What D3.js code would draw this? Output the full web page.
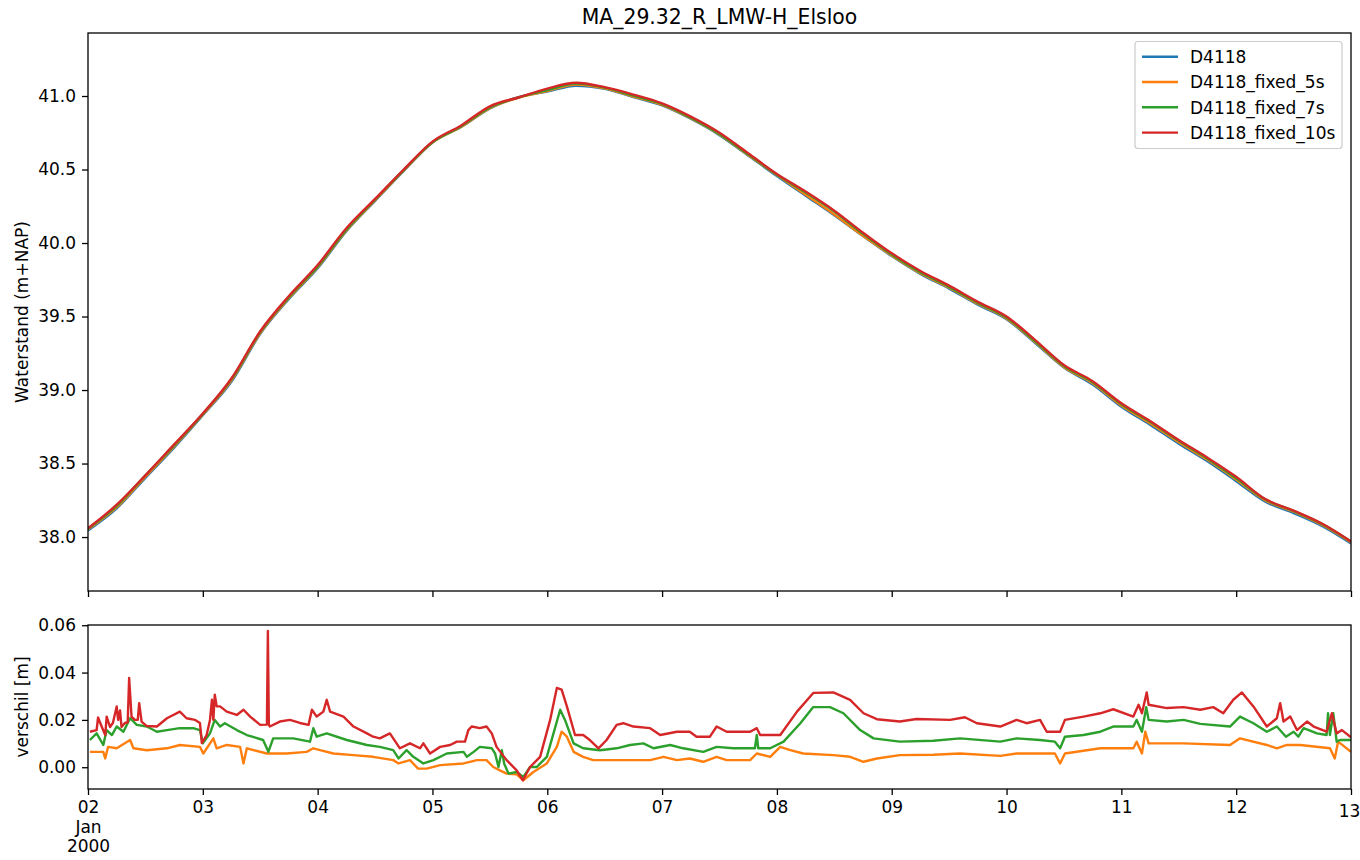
<!DOCTYPE html>
<html>
<head>
<meta charset="utf-8">
<script src="https://cdn.jsdelivr.net/npm/d3@7"></script>
<style>
    body { margin: 0; background: #fff; }
    svg text { font-family: "DejaVu Sans", sans-serif; fill: #000; }
</style>
</head>
<body>
<div id="chart"></div>
<script>
// series + tick labels
var seriesNames = ["D4118", "D4118_fixed_5s", "D4118_fixed_7s", "D4118_fixed_10s"];
var seriesColors = ["#1f77b4", "#ff7f0e", "#2ca02c", "#d62728"];
var dayLabels = ["02", "03", "04", "05", "06", "07", "08", "09", "10", "11", "12", "13"];
var dayHours = [0, 24, 48, 72, 96, 120, 144, 168, 192, 216, 240, 264];
var topTicks = [38.0, 38.5, 39.0, 39.5, 40.0, 40.5, 41.0];
var bottomTicks = [0.00, 0.02, 0.04, 0.06];

// hours since 2000-01-02 00:00, every 6 hours
var hours = [0, 6, 12, 18, 24, 30, 36, 42, 48, 54, 60, 66, 72, 78, 84, 90, 96, 102, 108, 114, 120, 126, 132, 138, 144,
    150, 156, 162, 168, 174, 180, 186, 192, 198, 204, 210, 216, 222, 228, 234, 240, 246, 252, 258, 264];

var waterstand = [38.045, 38.195, 38.403, 38.608, 38.828, 39.057, 39.382, 39.620, 39.828, 40.080, 40.287, 40.491, 40.684,
    40.789, 40.915, 40.993, 41.030, 41.070, 41.049, 40.993, 40.936, 40.845, 40.734, 40.595, 40.456, 40.322, 40.189, 40.047,
    39.911, 39.790, 39.690, 39.581, 39.482, 39.320, 39.153, 39.038, 38.887, 38.764, 38.635, 38.515, 38.380, 38.242, 38.163,
    38.074, 37.957];
var fixed5s = [38.052, 38.203, 38.410, 38.617, 38.834, 39.066, 39.388, 39.626, 39.835, 40.085, 40.291, 40.494, 40.684,
    40.791, 40.918, 40.989, 41.034, 41.078, 41.052, 40.996, 40.940, 40.849, 40.738, 40.598, 40.463, 40.328, 40.194, 40.049,
    39.916, 39.795, 39.696, 39.587, 39.487, 39.326, 39.157, 39.046, 38.895, 38.774, 38.645, 38.525, 38.391, 38.251, 38.172,
    38.082, 37.964];
var fixed7s = [38.057, 38.212, 38.420, 38.624, 38.838, 39.074, 39.394, 39.632, 39.841, 40.091, 40.296, 40.497, 40.686,
    40.794, 40.923, 40.990, 41.040, 41.084, 41.057, 41.002, 40.945, 40.853, 40.742, 40.603, 40.466, 40.344, 40.214, 40.062,
    39.922, 39.801, 39.702, 39.593, 39.493, 39.332, 39.164, 39.053, 38.904, 38.784, 38.655, 38.533, 38.400, 38.257, 38.177,
    38.088, 37.969];
var fixed10s = [38.060, 38.220, 38.420, 38.630, 38.840, 39.080, 39.400, 39.640, 39.850, 40.100, 40.300, 40.500, 40.690,
    40.800, 40.930, 40.990, 41.050, 41.090, 41.060, 41.010, 40.950, 40.860, 40.750, 40.610, 40.470, 40.350, 40.220, 40.070,
    39.930, 39.810, 39.710, 39.600, 39.500, 39.340, 39.170, 39.060, 38.910, 38.790, 38.660, 38.540, 38.410, 38.260, 38.180,
    38.090, 37.970];

// verschil [hour, m]
var verschil5s = [[0.4,0.0065],[3.2,0.0065],[3.6,0.0037],[4.2,0.0086],[6.0,0.008],[8.8,0.0115],[9.5,0.008],[12.3,0.0072],
    [16.5,0.008],[19.2,0.0094],[23.4,0.0086],[24.1,0.0058],[26.2,0.0122],[26.9,0.008],[29.0,0.0094],[31.8,0.0086],
    [32.5,0.0016],[33.2,0.008],[37.4,0.0058],[41.5,0.0058],[45.7,0.0065],[47.1,0.008],[48.5,0.0072],[51.3,0.0058],
    [55.5,0.0051],[59.6,0.0044],[63.8,0.003],[64.9,0.0016],[67.3,0.003],[69.0,-0.0006],[70.8,-0.0006],[73.6,0.0009],
    [78.5,0.0016],[81.3,0.003],[83.3,0.003],[84.7,0.0001],[86.1,-0.0013],[87.5,-0.0027],[89.6,-0.003],[91.0,-0.0055],
    [93.1,-0.002],[95.9,0.0016],[98.0,0.0086],[99.0,0.015],[100.1,0.0129],[101.5,0.0065],[103.5,0.0044],[105.6,0.003],
    [110.5,0.003],[117.5,0.003],[120.3,0.0044],[123.1,0.003],[125.8,0.0037],[128.6,0.0023],[131.4,0.0044],[133.5,0.003],
    [138.4,0.003],[139.8,0.0058],[142.6,0.0044],[144.7,0.0086],[146.8,0.0072],[149.5,0.0058],[155.8,0.0051],[159.3,0.0044],
    [162.1,0.0023],[164.9,0.0037],[169.7,0.0051],[176.7,0.0053],[182.3,0.0058],[190.7,0.0048],[194.1,0.0058],[202.1,0.0058],
    [203.2,0.0016],[204.2,0.0058],[211.6,0.008],[218.5,0.008],[219.2,0.0108],[220.3,0.0058],[221.0,0.015],[221.7,0.0101],
    [229.0,0.0101],[238.7,0.0094],[240.8,0.0122],[246.4,0.0094],[248.5,0.008],[250.6,0.0094],[253.4,0.0094],[259.6,0.008],
    [260.6,0.0037],[261.3,0.0108],[264,0.0065]];

var verschil7s = [[0.4,0.0115],[1.8,0.0143],[3.2,0.0094],[3.9,0.0157],[5.0,0.0136],[6.0,0.0172],[7.4,0.015],[8.8,0.0207],
    [10.2,0.0179],[12.3,0.0172],[14.4,0.015],[16.5,0.0157],[19.2,0.0165],[22.0,0.0165],[23.4,0.0157],[24.0,0.0101],
    [25.5,0.0143],[26.5,0.02],[27.6,0.0172],[28.6,0.0186],[31.1,0.0157],[33.2,0.0136],[36.6,0.0115],[37.7,0.0065],
    [38.7,0.0122],[42.9,0.0122],[46.4,0.0108],[47.1,0.0165],[47.8,0.0129],[49.9,0.0143],[54.1,0.0115],[58.3,0.0094],
    [61.0,0.0086],[63.8,0.0072],[64.9,0.0037],[66.6,0.0072],[68.0,0.0044],[70.1,0.0016],[72.2,0.003],[75.0,0.0058],
    [78.5,0.0065],[79.2,0.0044],[80.6,0.0065],[81.9,0.0086],[84.4,0.008],[85.1,0.0058],[85.8,0.0001],[86.5,0.0072],
    [87.0,0.0015],[87.9,-0.0027],[89.6,-0.002],[91.0,-0.0041],[92.4,0.0001],[93.8,0.0001],[95.9,0.0044],[97.3,0.0143],
    [98.7,0.0243],[99.7,0.02],[101.5,0.0101],[103.5,0.008],[107.0,0.0072],[110.5,0.008],[113.3,0.0094],[116.1,0.0101],
    [118.2,0.008],[121.7,0.0094],[124.4,0.008],[128.6,0.0065],[131.4,0.0086],[134.9,0.008],[139.4,0.008],[139.8,0.0136],
    [140.1,0.008],[142.6,0.008],[145.4,0.0108],[148.9,0.0186],[151.6,0.0254],[155.1,0.0254],[157.9,0.0228],[161.4,0.0157],
    [164.2,0.0122],[169.7,0.0108],[176.7,0.0112],[182.3,0.0122],[190.7,0.0108],[194.1,0.0122],[199.0,0.0115],[202.1,0.0108],
    [203.2,0.008],[204.2,0.0129],[208.1,0.0136],[211.6,0.015],[214.3,0.0172],[218.5,0.0172],[219.2,0.02],[220.3,0.015],
    [221.2,0.0254],[221.7,0.02],[225.5,0.0193],[229.0,0.02],[232.5,0.0183],[238.7,0.0172],[240.8,0.0214],[243.6,0.0186],
    [246.4,0.015],[248.5,0.0172],[250.4,0.0129],[252.0,0.015],[253.0,0.0129],[254.1,0.0165],[256.9,0.0143],[258.9,0.0136],
    [259.2,0.0228],[259.6,0.0136],[260.3,0.0228],[261.0,0.0108],[261.7,0.0115],[264,0.0115]];

var verschil10s = [[0.4,0.015],[1.8,0.0157],[2.1,0.021],[2.9,0.017],[3.6,0.0136],[3.9,0.0214],[4.6,0.017],[5.2,0.0187],
    [6.0,0.0257],[6.3,0.02],[6.7,0.024],[7.0,0.017],[7.7,0.0187],[8.3,0.019],[8.6,0.0377],[9.1,0.0214],[9.8,0.02],
    [10.4,0.02],[10.7,0.0271],[11.2,0.0193],[12.3,0.0174],[14.4,0.0172],[16.5,0.0207],[19.2,0.0235],[20.6,0.0207],
    [22.4,0.02],[23.4,0.0187],[23.8,0.0102],[24.8,0.0136],[25.5,0.02],[25.9,0.0285],[26.2,0.02],[26.5,0.0306],[26.9,0.0257],
    [27.6,0.0257],[29.0,0.0235],[31.1,0.0221],[32.5,0.0243],[33.9,0.0214],[36.0,0.0179],[37.4,0.018],[37.6,0.0576],
    [37.8,0.018],[38.0,0.0172],[40.1,0.0193],[42.2,0.02],[44.3,0.0187],[46.1,0.0179],[46.8,0.0243],[47.8,0.0214],
    [49.2,0.0235],[49.9,0.0285],[50.6,0.0235],[53.4,0.0214],[55.5,0.0172],[58.3,0.0143],[59.6,0.0129],[61.0,0.0122],
    [63.1,0.0143],[63.8,0.0122],[65.2,0.008],[67.3,0.0101],[69.4,0.008],[70.1,0.0101],[71.5,0.0058],[73.6,0.0086],
    [75.7,0.0094],[77.1,0.0108],[78.8,0.0108],[79.5,0.0157],[80.2,0.0172],[81.9,0.0165],[83.3,0.0172],[84.4,0.0143],
    [85.4,0.0086],[87.5,0.003],[89.6,-0.0013],[90.9,-0.0055],[92.4,0.0001],[94.5,0.0044],[96.6,0.02],[98.0,0.0335],
    [99.0,0.0328],[100.1,0.0257],[101.8,0.0136],[103.5,0.0136],[104.9,0.0115],[106.7,0.008],[108.4,0.0115],[110.5,0.0179],
    [111.9,0.0186],[114.0,0.0172],[117.5,0.0165],[119.6,0.0136],[123.1,0.015],[125.8,0.015],[127.2,0.0129],[130.0,0.0129],
    [131.4,0.0172],[133.5,0.015],[138.4,0.015],[139.8,0.0165],[140.5,0.0136],[144.7,0.0136],[148.2,0.0235],[151.6,0.0314],
    [155.8,0.0316],[159.3,0.0285],[162.1,0.0228],[164.9,0.0203],[169.7,0.0193],[173.2,0.0204],[180.2,0.02],[183.3,0.0211],
    [185.8,0.0186],[190.7,0.0172],[194.1,0.02],[196.2,0.0186],[199.0,0.02],[200.4,0.015],[203.2,0.015],[204.2,0.02],
    [208.1,0.0214],[211.6,0.0228],[214.3,0.0245],[218.5,0.0214],[219.6,0.0264],[220.3,0.0228],[221.3,0.0316],[221.7,0.0264],
    [225.5,0.025],[229.0,0.0254],[232.5,0.0243],[235.2,0.0254],[237.3,0.0228],[239.4,0.0285],[241.2,0.0316],[243.6,0.0257],
    [246.4,0.0172],[248.5,0.0207],[249.2,0.0271],[249.9,0.0193],[251.3,0.0214],[252.7,0.0157],[254.8,0.0193],[256.2,0.0172],
    [258.9,0.015],[260.0,0.0228],[261.0,0.0143],[262.1,0.0157],[264,0.0126]];

function drawChart() {
    const width = 1360;
    const height = 860;
    const left = 88, right = 1351;
    const top1 = 33, bottom1 = 591;
    const top2 = 625, bottom2 = 789;
    const fontSize = 17;

    var svg = d3.select("#chart")
        .append("svg")
        .attr("width", width)
        .attr("height", height)
        .attr("viewBox", "0 0 " + width + " " + height);

    const xScale = d3.scaleLinear().domain([0, 264]).range([left, right]);
    const yTop = d3.scaleLinear().domain([37.633, 41.4286]).range([bottom1, top1]);
    const yBottom = d3.scaleLinear().domain([-0.0092, 0.0601]).range([bottom2, top2]);

    var defs = svg.append("defs");
    defs.append("clipPath").attr("id", "clip1")
        .append("rect").attr("x", left).attr("y", top1).attr("width", right - left).attr("height", bottom1 - top1);
    defs.append("clipPath").attr("id", "clip2")
        .append("rect").attr("x", left).attr("y", top2).attr("width", right - left).attr("height", bottom2 - top2);

    // title
    svg.append("text")
        .attr("x", (left + right) / 2)
        .attr("y", 24)
        .attr("text-anchor", "middle")
        .style("font-size", "20.4px")
        .text("MA_29.32_R_LMW-H_Elsloo");

    // top panel lines
    var topSeries = [waterstand, fixed5s, fixed7s, fixed10s];
    var topLine = d3.line()
        .x((d, i) => xScale(hours[i]))
        .y((d) => yTop(d))
        .curve(d3.curveMonotoneX);

    svg.append("g")
        .attr("clip-path", "url(#clip1)")
        .selectAll("path")
        .data(topSeries)
        .enter()
        .append("path")
        .attr("d", (s) => topLine(s))
        .attr("fill", "none")
        .attr("stroke", (s, i) => seriesColors[i])
        .attr("stroke-width", 2.4)
        .attr("stroke-linejoin", "round");

    // bottom panel lines (no diff for D4118 itself)
    var bottomSeries = [
        {values: verschil5s, color: seriesColors[1]},
        {values: verschil7s, color: seriesColors[2]},
        {values: verschil10s, color: seriesColors[3]}
    ];
    var diffLine = d3.line()
        .x((d) => xScale(d[0]))
        .y((d) => yBottom(d[1]));

    svg.append("g")
        .attr("clip-path", "url(#clip2)")
        .selectAll("path")
        .data(bottomSeries)
        .enter()
        .append("path")
        .attr("d", (s) => diffLine(s.values))
        .attr("fill", "none")
        .attr("stroke", (s) => s.color)
        .attr("stroke-width", 2.4)
        .attr("stroke-linejoin", "round");

    // axes
    var yAxisTop = d3.axisLeft(yTop)
        .tickValues(topTicks)
        .tickSize(6)
        .tickPadding(6)
        .tickFormat(d3.format(".1f"));
    var yAxisBottom = d3.axisLeft(yBottom)
        .tickValues(bottomTicks)
        .tickSize(6)
        .tickPadding(6)
        .tickFormat(d3.format(".2f"));
    var xAxisTop = d3.axisBottom(xScale)
        .tickValues(dayHours)
        .tickSize(6)
        .tickFormat("");
    var xAxisBottom = d3.axisBottom(xScale)
        .tickValues(dayHours)
        .tickSize(6)
        .tickPadding(6)
        .tickFormat((d, i) => dayLabels[i]);

    var gyt = svg.append("g").attr("transform", "translate(" + left + ",0)").call(yAxisTop);
    var gyb = svg.append("g").attr("transform", "translate(" + left + ",0)").call(yAxisBottom);
    var gxt = svg.append("g").attr("transform", "translate(0," + bottom1 + ")").call(xAxisTop);
    var gxb = svg.append("g").attr("transform", "translate(0," + bottom2 + ")").call(xAxisBottom);

    [gyt, gyb, gxt, gxb].forEach(function(g) {
        g.select(".domain").remove();
        g.selectAll(".tick line").attr("stroke", "#000").attr("stroke-width", 1.3);
        g.selectAll("text")
            .attr("fill", "#000")
            .style("font-family", "'DejaVu Sans', sans-serif")
            .style("font-size", fontSize + "px");
    });

    // pandas-style date label under the first tick, last label sits a bit lower
    gxb.selectAll(".tick text").each(function(d, i) {
        var t = d3.select(this);
        if (i === 0) {
            t.append("tspan").attr("x", 0).attr("dy", "1.15em").text("Jan");
            t.append("tspan").attr("x", 0).attr("dy", "1.15em").text("2000");
        }
        if (i === dayLabels.length - 1) {
            t.attr("y", 16).attr("x", -2);
        }
    });

    // frames
    svg.append("rect")
        .attr("x", left).attr("y", top1)
        .attr("width", right - left).attr("height", bottom1 - top1)
        .attr("fill", "none").attr("stroke", "#000").attr("stroke-width", 1.3);
    svg.append("rect")
        .attr("x", left).attr("y", top2)
        .attr("width", right - left).attr("height", bottom2 - top2)
        .attr("fill", "none").attr("stroke", "#000").attr("stroke-width", 1.3);

    // y labels
    svg.append("text")
        .attr("transform", "translate(28," + ((top1 + bottom1) / 2) + ") rotate(-90)")
        .attr("text-anchor", "middle")
        .style("font-size", fontSize + "px")
        .text("Waterstand (m+NAP)");
    svg.append("text")
        .attr("transform", "translate(28," + ((top2 + bottom2) / 2) + ") rotate(-90)")
        .attr("text-anchor", "middle")
        .style("font-size", fontSize + "px")
        .text("verschil [m]");

    // legend
    var legend = svg.append("g");
    legend.append("rect")
        .attr("x", 1135).attr("y", 41.5)
        .attr("width", 207).attr("height", 107)
        .attr("rx", 3)
        .attr("fill", "#fff").attr("fill-opacity", 0.8)
        .attr("stroke", "#cccccc").attr("stroke-width", 1.2);

    var rows = legend.selectAll("g.entry")
        .data(seriesNames)
        .enter()
        .append("g")
        .attr("class", "entry")
        .attr("transform", (d, i) => "translate(0," + (56.7 + i * 25.3) + ")");
    rows.append("line")
        .attr("x1", 1142).attr("x2", 1178)
        .attr("y1", 0).attr("y2", 0)
        .attr("stroke", (d, i) => seriesColors[i])
        .attr("stroke-width", 2.4);
    rows.append("text")
        .attr("x", 1190)
        .attr("y", 6.3)
        .style("font-size", fontSize + "px")
        .text((d) => d);
}

drawChart();
</script>
</body>
</html>
